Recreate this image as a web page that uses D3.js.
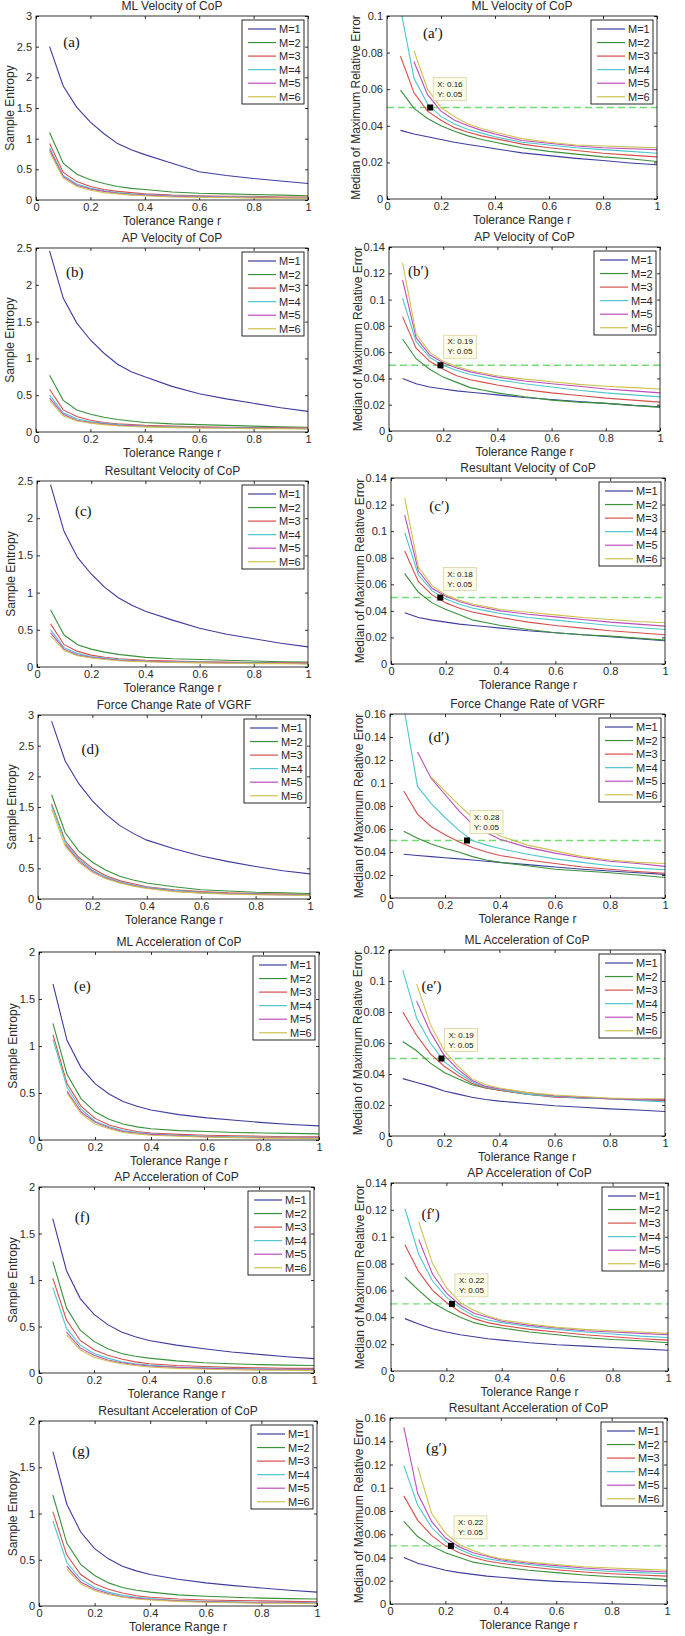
<!DOCTYPE html>
<html><head><meta charset="utf-8">
<script src="https://cdn.jsdelivr.net/npm/d3@7"></script>
<style>
body{margin:0;background:#fff}
svg{display:block}
svg text{fill:#2a2a2a}
</style>
</head><body>
<svg id="chart" width="685" height="1636"></svg>
<script>
// ---------------- DATA ----------------
const rValues = [0.05,0.1,0.15,0.2,0.25,0.3,0.35,0.4,0.5,0.6,0.7,0.8,0.9,1.0];
const seriesLabels = ["M=1","M=2","M=3","M=4","M=5","M=6"];
const panelTitles = ["ML Velocity of CoP","AP Velocity of CoP","Resultant Velocity of CoP","Force Change Rate of VGRF","ML Acceleration of CoP","AP Acceleration of CoP","Resultant Acceleration of CoP"];
const leftTags = ["(a)","(b)","(c)","(d)","(e)","(f)","(g)"];
const rightTags = ["(a′)","(b′)","(c′)","(d′)","(e′)","(f′)","(g′)"];
const xTicks = [0,0.2,0.4,0.6,0.8,1];
const entropyYMax = [3,2.5,2.5,3,2,2,2];
const errorYMax = [0.1,0.14,0.14,0.16,0.12,0.14,0.16];
const entropyStep = 0.5;
const errorStep = 0.02;
const tipX = [0.16,0.19,0.18,0.28,0.19,0.22,0.22];
const tipY = 0.05;
const thresholdLevel = 0.05;
const xLabel = "Tolerance Range r";
const leftYLabel = "Sample Entropy";
const rightYLabel = "Median of Maximum Relative Error";

// Sample entropy (left column), one row per M
const entropyA = [
 [2.50,1.86,1.51,1.27,1.08,0.92,0.82,0.74,0.60,0.46,0.40,0.35,0.31,0.27],
 [1.10,0.60,0.42,0.33,0.27,0.22,0.19,0.17,0.13,0.11,0.10,0.09,0.08,0.07],
 [0.92,0.45,0.30,0.22,0.17,0.14,0.12,0.10,0.08,0.07,0.06,0.06,0.05,0.05],
 [0.85,0.40,0.26,0.19,0.15,0.12,0.10,0.09,0.07,0.06,0.05,0.05,0.04,0.04],
 [0.82,0.38,0.24,0.18,0.14,0.11,0.09,0.08,0.06,0.05,0.05,0.04,0.04,0.03],
 [0.78,0.36,0.22,0.16,0.12,0.10,0.08,0.07,0.05,0.04,0.04,0.03,0.03,0.03]];
const entropyB = [
 [2.46,1.82,1.48,1.25,1.07,0.92,0.82,0.75,0.62,0.52,0.45,0.39,0.33,0.28],
 [0.77,0.43,0.30,0.24,0.20,0.17,0.15,0.13,0.11,0.10,0.09,0.08,0.07,0.065],
 [0.58,0.30,0.21,0.16,0.13,0.11,0.10,0.09,0.08,0.07,0.065,0.06,0.06,0.055],
 [0.50,0.26,0.18,0.14,0.12,0.10,0.09,0.08,0.07,0.065,0.06,0.055,0.05,0.05],
 [0.46,0.24,0.16,0.13,0.11,0.09,0.085,0.075,0.065,0.06,0.055,0.05,0.05,0.045],
 [0.43,0.22,0.15,0.12,0.10,0.085,0.075,0.07,0.06,0.055,0.05,0.045,0.045,0.04]];
const entropyC = [
 [2.45,1.82,1.47,1.25,1.07,0.93,0.83,0.75,0.63,0.52,0.44,0.38,0.32,0.27],
 [0.77,0.43,0.30,0.24,0.20,0.17,0.15,0.13,0.11,0.10,0.09,0.08,0.07,0.065],
 [0.58,0.30,0.21,0.16,0.13,0.11,0.10,0.09,0.08,0.07,0.065,0.06,0.06,0.055],
 [0.50,0.26,0.18,0.14,0.12,0.10,0.09,0.08,0.07,0.065,0.06,0.055,0.05,0.05],
 [0.46,0.24,0.16,0.13,0.11,0.09,0.085,0.075,0.065,0.06,0.055,0.05,0.05,0.045],
 [0.42,0.22,0.15,0.12,0.10,0.085,0.075,0.07,0.06,0.055,0.05,0.045,0.045,0.04]];
const entropyD = [
 [2.90,2.25,1.88,1.60,1.38,1.20,1.07,0.96,0.82,0.70,0.61,0.53,0.46,0.41],
 [1.70,1.08,0.78,0.60,0.47,0.37,0.31,0.26,0.20,0.15,0.13,0.11,0.10,0.09],
 [1.55,0.95,0.68,0.50,0.38,0.30,0.25,0.20,0.15,0.12,0.10,0.09,0.08,0.07],
 [1.52,0.92,0.65,0.47,0.36,0.28,0.23,0.19,0.14,0.11,0.09,0.08,0.07,0.065],
 [null,0.89,0.62,0.45,0.34,0.27,0.22,0.18,0.13,0.10,0.085,0.075,0.07,0.06],
 [1.47,0.86,0.60,0.43,0.33,0.26,0.21,0.17,0.12,0.095,0.08,0.07,0.065,0.055]];
const entropyE = [
 [1.66,1.06,0.77,0.60,0.49,0.41,0.36,0.32,0.27,0.235,0.21,0.185,0.165,0.15],
 [1.24,0.70,0.44,0.30,0.22,0.17,0.14,0.12,0.10,0.09,0.08,0.075,0.07,0.065],
 [1.12,0.60,0.36,0.23,0.16,0.12,0.09,0.075,0.06,0.05,0.045,0.04,0.035,0.035],
 [1.07,0.56,0.33,0.20,0.14,0.10,0.08,0.065,0.05,0.04,0.035,0.03,0.03,0.025],
 [null,0.52,0.30,0.19,0.13,0.09,0.07,0.06,0.045,0.035,0.03,0.025,0.025,0.02],
 [null,0.50,0.28,0.17,0.12,0.08,0.065,0.05,0.04,0.03,0.025,0.02,0.02,0.015]];
const entropyF = [
 [1.66,1.10,0.80,0.63,0.52,0.44,0.39,0.35,0.30,0.26,0.225,0.20,0.175,0.155],
 [1.20,0.70,0.46,0.34,0.26,0.21,0.18,0.16,0.13,0.11,0.10,0.09,0.085,0.08],
 [1.02,0.57,0.35,0.25,0.19,0.15,0.12,0.10,0.08,0.07,0.06,0.055,0.05,0.05],
 [0.92,0.48,0.30,0.21,0.16,0.12,0.10,0.085,0.065,0.055,0.05,0.045,0.04,0.04],
 [null,0.44,0.27,0.19,0.14,0.11,0.09,0.075,0.06,0.05,0.045,0.04,0.035,0.035],
 [null,0.41,0.25,0.17,0.13,0.10,0.08,0.065,0.05,0.04,0.035,0.03,0.03,0.025]];
const entropyG = [
 [1.67,1.10,0.80,0.62,0.51,0.43,0.38,0.34,0.29,0.25,0.22,0.195,0.17,0.15],
 [1.20,0.68,0.45,0.33,0.25,0.20,0.17,0.15,0.12,0.105,0.095,0.085,0.08,0.075],
 [1.02,0.55,0.34,0.24,0.18,0.14,0.11,0.095,0.075,0.065,0.06,0.055,0.05,0.045],
 [0.92,0.47,0.29,0.20,0.15,0.115,0.095,0.08,0.06,0.05,0.045,0.04,0.04,0.035],
 [null,0.43,0.26,0.18,0.135,0.10,0.085,0.07,0.055,0.045,0.04,0.035,0.035,0.03],
 [null,0.40,0.24,0.165,0.125,0.095,0.075,0.065,0.05,0.04,0.035,0.03,0.03,0.025]];

// Median of maximum relative error (right column)
const errorA = [
 [0.0375,0.0355,0.034,0.0325,0.031,0.0298,0.0287,0.0275,0.0252,0.0237,0.0222,0.021,0.0197,0.0187],
 [0.0595,0.0495,0.044,0.040,0.037,0.0345,0.0325,0.031,0.028,0.026,0.0245,0.023,0.022,0.0205],
 [0.078,0.058,0.048,0.043,0.039,0.0365,0.0345,0.033,0.030,0.028,0.0265,0.025,0.024,0.023],
 [0.104,0.066,0.052,0.045,0.041,0.038,0.036,0.034,0.031,0.0295,0.028,0.027,0.026,0.025],
 [null,0.075,0.057,0.048,0.043,0.040,0.0375,0.0355,0.032,0.0305,0.029,0.028,0.0275,0.027],
 [null,0.081,0.060,0.050,0.045,0.041,0.0385,0.0365,0.033,0.031,0.0295,0.029,0.0285,0.028]];
const errorB = [
 [0.040,0.036,0.0335,0.032,0.0305,0.0295,0.0285,0.0275,0.0255,0.024,0.0225,0.021,0.0195,0.0185],
 [0.070,0.055,0.047,0.041,0.037,0.033,0.031,0.029,0.026,0.0235,0.022,0.021,0.0195,0.018],
 [0.087,0.063,0.053,0.047,0.042,0.039,0.037,0.035,0.0315,0.029,0.027,0.025,0.0235,0.022],
 [0.101,0.068,0.056,0.050,0.046,0.043,0.041,0.039,0.036,0.0335,0.031,0.029,0.0275,0.026],
 [0.115,0.071,0.058,0.052,0.048,0.045,0.043,0.041,0.038,0.036,0.034,0.032,0.0305,0.029],
 [0.128,0.074,0.060,0.053,0.049,0.046,0.044,0.042,0.0395,0.0375,0.0355,0.034,0.033,0.032]];
const errorC = [
 [0.0385,0.035,0.033,0.0315,0.030,0.029,0.028,0.027,0.025,0.0235,0.022,0.0205,0.019,0.0175],
 [0.068,0.054,0.046,0.041,0.037,0.033,0.031,0.029,0.026,0.0235,0.022,0.021,0.0195,0.018],
 [0.085,0.062,0.052,0.046,0.042,0.039,0.037,0.035,0.0315,0.029,0.027,0.025,0.0235,0.022],
 [0.099,0.067,0.055,0.049,0.045,0.042,0.040,0.038,0.035,0.033,0.031,0.029,0.0275,0.026],
 [0.112,0.070,0.057,0.051,0.047,0.044,0.042,0.040,0.0375,0.0355,0.0335,0.0315,0.030,0.0285],
 [0.125,0.073,0.059,0.052,0.048,0.045,0.043,0.041,0.039,0.037,0.035,0.0335,0.032,0.031]];
const errorD = [
 [0.038,0.037,0.036,0.035,0.034,0.033,0.032,0.031,0.029,0.027,0.025,0.0235,0.022,0.0205],
 [0.058,0.052,0.047,0.043,0.040,0.036,0.033,0.031,0.028,0.025,0.0235,0.022,0.020,0.0178],
 [0.093,0.073,0.062,0.055,0.049,0.044,0.040,0.037,0.033,0.030,0.027,0.025,0.023,0.0215],
 [0.166,0.097,0.082,0.070,0.059,0.050,0.046,0.043,0.038,0.034,0.031,0.028,0.026,0.0245],
 [null,0.127,0.104,0.090,0.076,0.064,0.057,0.051,0.044,0.039,0.035,0.032,0.030,0.0275],
 [null,null,0.105,0.093,0.081,0.070,0.061,0.054,0.046,0.041,0.036,0.033,0.031,0.030]];
const errorE = [
 [0.037,0.0345,0.032,0.029,0.027,0.025,0.0235,0.0225,0.021,0.0195,0.0185,0.0175,0.0168,0.0158],
 [0.061,0.055,0.047,0.041,0.037,0.033,0.031,0.0295,0.027,0.0255,0.0245,0.024,0.0235,0.023],
 [0.080,0.065,0.053,0.045,0.039,0.034,0.031,0.0295,0.027,0.025,0.0245,0.024,0.0235,0.023],
 [0.107,0.076,0.060,0.048,0.041,0.035,0.0315,0.030,0.027,0.0255,0.0245,0.024,0.023,0.022],
 [null,0.087,0.067,0.052,0.043,0.036,0.032,0.0305,0.028,0.026,0.025,0.024,0.0235,0.0235],
 [null,0.098,0.072,0.055,0.045,0.037,0.033,0.031,0.028,0.0265,0.0255,0.0245,0.024,0.024]];
const errorF = [
 [0.039,0.035,0.0315,0.029,0.027,0.0255,0.024,0.023,0.021,0.0195,0.0185,0.0175,0.0165,0.0155],
 [0.070,0.060,0.051,0.045,0.040,0.036,0.0335,0.032,0.029,0.027,0.025,0.0235,0.0225,0.021],
 [0.094,0.074,0.060,0.051,0.044,0.039,0.036,0.034,0.031,0.029,0.027,0.0255,0.024,0.023],
 [0.121,0.087,0.067,0.055,0.047,0.041,0.038,0.036,0.033,0.031,0.029,0.0275,0.026,0.025],
 [null,0.098,0.072,0.058,0.049,0.043,0.040,0.037,0.034,0.032,0.030,0.029,0.028,0.027],
 [null,0.111,0.080,0.062,0.051,0.045,0.041,0.038,0.035,0.0325,0.031,0.030,0.029,0.028]];
const errorG = [
 [0.040,0.035,0.032,0.029,0.027,0.0255,0.024,0.023,0.021,0.0195,0.0185,0.0175,0.0165,0.0155],
 [0.071,0.058,0.050,0.044,0.040,0.036,0.034,0.032,0.029,0.027,0.025,0.0235,0.0225,0.021],
 [0.093,0.072,0.059,0.050,0.044,0.040,0.037,0.035,0.032,0.0295,0.0275,0.026,0.025,0.024],
 [0.119,0.085,0.066,0.054,0.047,0.042,0.039,0.037,0.034,0.0315,0.0295,0.028,0.027,0.026],
 [0.152,0.095,0.071,0.057,0.049,0.044,0.041,0.038,0.035,0.033,0.031,0.0295,0.0285,0.0275],
 [null,0.118,0.078,0.061,0.051,0.046,0.042,0.039,0.036,0.034,0.032,0.031,0.030,0.029]];

const entropyPanels = [entropyA,entropyB,entropyC,entropyD,entropyE,entropyF,entropyG];
const errorPanels = [errorA,errorB,errorC,errorD,errorE,errorF,errorG];

// ---------------- LAYOUT & STYLE ----------------
const seriesColors = ["#3d3d9e","#3a913a","#d64f4b","#4ec6cc","#bd4dbd","#cdc24e"];
const leftRects = [[36,308,16,200],[36,308,248,432],[37,308,481,667],[38,310,715,899],[39,319,952,1140],[39,314,1187,1373],[39,317,1421,1606]];
const rightRects = [[387,657,16,199],[389,660,247,431],[391,665,478,664],[390,665,714,898],[389,665,950,1136],[391,668,1183,1371],[390,667,1418,1604]];
const leftTagPos = [[0.10,0.17],[0.11,0.16],[0.14,0.19],[0.16,0.21],[0.125,0.21],[0.13,0.19],[0.12,0.19]];
const rightTagPos = [[0.133,0.12],[0.07,0.16],[0.14,0.18],[0.14,0.15],[0.118,0.22],[0.11,0.19],[0.13,0.19]];
const FONT = "Arial, 'Liberation Sans', Helvetica, sans-serif";
const SERIF = "'Liberation Serif', 'Times New Roman', serif";

const svg = d3.select("#chart");
const fmt = d => String(+d.toFixed(2));

function drawPanel(id, rect, yMax, yStep, data, title, yLabel, tag, tagPos, tip, yLabelOff) {
  const [x0,x1,yT,yB] = rect;
  const x = d3.scaleLinear().domain([0,1]).range([x0,x1]);
  const y = d3.scaleLinear().domain([0,yMax]).range([yB,yT]);
  const g = svg.append("g");
  const yTicks = d3.range(0, Math.round(yMax/yStep)+1).map(i => +(i*yStep).toFixed(4));

  g.append("clipPath").attr("id","clip"+id).append("rect")
    .attr("x",x0).attr("y",yT).attr("width",x1-x0).attr("height",yB-yT);

  const ax = (axis, tr, labels) => {
    const a = g.append("g").attr("transform",tr).call(axis);
    a.select(".domain").remove();
    a.selectAll(".tick line").attr("stroke","#000").attr("stroke-width",0.8);
    a.attr("font-family",FONT).attr("font-size",11);
    a.selectAll("text").style("fill","#2a2a2a");
    if (!labels) a.selectAll("text").remove();
  };
  ax(d3.axisBottom(x).tickValues(xTicks).tickFormat(fmt).tickSize(-3).tickPadding(3), `translate(0,${yB})`, true);
  ax(d3.axisTop(x).tickValues(xTicks).tickSize(-3), `translate(0,${yT})`, false);
  ax(d3.axisLeft(y).tickValues(yTicks).tickFormat(fmt).tickSize(-3).tickPadding(4), `translate(${x0},0)`, true);
  ax(d3.axisRight(y).tickValues(yTicks).tickSize(-3), `translate(${x1},0)`, false);

  const lines = g.append("g").attr("clip-path",`url(#clip${id})`);
  const line = d3.line().x(p => x(p[0])).y(p => y(p[1]));

  if (tip != null) {
    lines.append("line").attr("x1",x0).attr("x2",x1)
      .attr("y1",y(thresholdLevel)).attr("y2",y(thresholdLevel))
      .attr("stroke","#74dc74").attr("stroke-width",1.4).attr("stroke-dasharray","7,4");
  }

  data.forEach((vals,i) => {
    const pts = vals.map((v,j) => [rValues[j], v]).filter(p => p[1] != null);
    lines.append("path").attr("d", line(pts)).attr("fill","none")
      .attr("stroke", seriesColors[i]).attr("stroke-width",1.1);
  });

  g.append("rect").attr("x",x0).attr("y",yT).attr("width",x1-x0).attr("height",yB-yT)
    .attr("fill","none").attr("stroke","#000").attr("stroke-width",0.8);

  const txt = (sel, size, fam) => sel.style("font-family",fam || FONT).style("font-size",size+"px");
  txt(g.append("text").attr("x",(x0+x1)/2).attr("y",yT-6).attr("text-anchor","middle"), 12).text(title);
  txt(g.append("text").attr("x",(x0+x1)/2).attr("y",yB+25).attr("text-anchor","middle"), 12).text(xLabel);
  txt(g.append("text").attr("transform",`translate(${x0-yLabelOff},${(yT+yB)/2}) rotate(-90)`)
    .attr("text-anchor","middle").attr("dy","0.35em"), 12).text(yLabel);

  txt(g.append("text").attr("x",x(tagPos[0])).attr("y",yT + tagPos[1]*(yB-yT)), 15, SERIF)
    .style("fill","#111").text(tag);

  const lw = 62, lh = 84, lx = x1-4-lw, ly = yT+4;
  const lg = g.append("g");
  lg.append("rect").attr("x",lx).attr("y",ly).attr("width",lw).attr("height",lh)
    .attr("fill","#fff").attr("stroke","#111").attr("stroke-width",0.9);
  seriesLabels.forEach((s,i) => {
    const yy = ly + 9 + i*13.55;
    lg.append("line").attr("x1",lx+6).attr("x2",lx+34).attr("y1",yy).attr("y2",yy)
      .attr("stroke",seriesColors[i]).attr("stroke-width",1.2);
    txt(lg.append("text").attr("x",lx+37).attr("y",yy).attr("dy","0.36em"), 11).text(s);
  });

  if (tip != null) {
    const mx = x(tip), my = y(tipY);
    g.append("rect").attr("x",mx+3).attr("y",my-30).attr("width",33).attr("height",23)
      .attr("fill","#fdfce6").attr("stroke","#d8d2a6").attr("stroke-width",0.8);
    txt(g.append("text").attr("x",mx+7).attr("y",my-21), 8).style("fill","#111").text("X: " + fmt(tip));
    txt(g.append("text").attr("x",mx+7).attr("y",my-11), 8).style("fill","#111").text("Y: " + fmt(tipY));
    g.append("rect").attr("x",mx-3).attr("y",my-3).attr("width",6).attr("height",6).attr("fill","#000");
  }
}

for (let k = 0; k < 7; k++) {
  drawPanel("L"+k, leftRects[k], entropyYMax[k], entropyStep, entropyPanels[k], panelTitles[k], leftYLabel, leftTags[k], leftTagPos[k], null, 26);
  drawPanel("R"+k, rightRects[k], errorYMax[k], errorStep, errorPanels[k], panelTitles[k], rightYLabel, rightTags[k], rightTagPos[k], tipX[k], 31);
}
</script>
</body></html>
